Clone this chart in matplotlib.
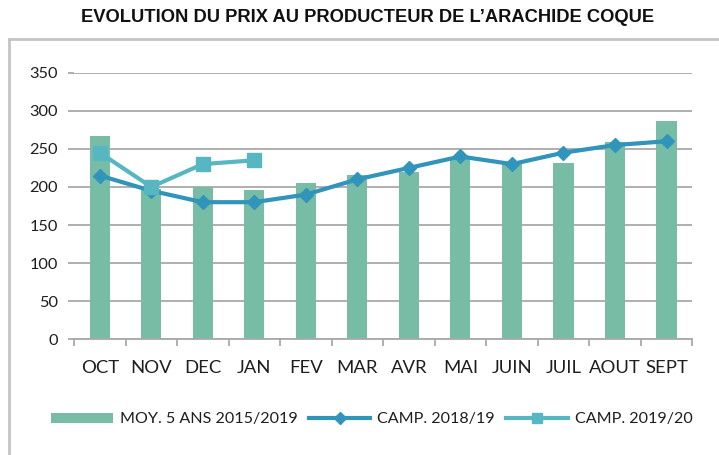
import matplotlib
matplotlib.use("Agg")
import matplotlib.pyplot as plt
import numpy as np
from matplotlib.lines import Line2D
from matplotlib.patches import Patch

months = ["OCT", "NOV", "DEC", "JAN", "FEV", "MAR", "AVR", "MAI",
          "JUIN", "JUIL", "AOUT", "SEPT"]
moy_5ans = [267, 197, 200, 196, 205, 216, 219, 238, 231, 232, 259, 287]
camp_2018_19 = [215, 195, 180, 180, 190, 210, 225, 240, 230, 245, 255, 260]
camp_2019_20 = [245, 200, 230, 235]
yticks = [0, 50, 100, 150, 200, 250, 300, 350]

bar_color = "#77BDA6"
line1_color = "#3194BA"
line2_color = "#56B6C2"
grid_color = "#A9A9A9"
text_color = "#1E1E1E"

label_font = ["Lato", "DejaVu Sans"]
title_font = ["Liberation Sans Narrow", "Liberation Sans", "DejaVu Sans"]

W, H = 719, 455
fig = plt.figure(figsize=(W / 100, H / 100), dpi=100)
ax = fig.add_axes([74 / W, (H - 339.3) / H, (692.3 - 74) / W, (339.3 - 72.7) / H])

x = np.arange(len(months))
ax.bar(x, moy_5ans, width=0.39, color=bar_color, zorder=2)
ax.plot(x, camp_2018_19, color=line1_color, lw=3.0, marker="D", ms=7,
        mec=line1_color, mfc=line1_color, zorder=3)
ax.plot(x[:len(camp_2019_20)], camp_2019_20, color=line2_color, lw=3.0,
        marker="s", ms=10, mec=line2_color, mfc=line2_color, zorder=4)

ax.set_xlim(-0.5, len(months) - 0.5)
ax.set_ylim(0, 350)
ax.set_yticks(yticks)
ax.yaxis.grid(True, color=grid_color, lw=1.3, zorder=0)
ax.set_axisbelow(True)

for side in ("top", "right", "left"):
    ax.spines[side].set_visible(False)
ax.spines["bottom"].set_color(grid_color)
ax.spines["bottom"].set_linewidth(1.3)

ax.set_xticks(x)
ax.set_xticklabels(months, fontfamily=label_font, fontsize=13.3, color=text_color)
ax.set_xticks(np.arange(len(months) + 1) - 0.5, minor=True)
ax.tick_params(axis="x", which="major", length=0, pad=15)
ax.tick_params(axis="x", which="minor", length=5, width=1.3, color=grid_color)
ax.tick_params(axis="y", length=4.5, width=1.3, color=grid_color, pad=7,
               labelsize=11.8, labelcolor=text_color)
for lab in ax.get_yticklabels():
    lab.set_fontfamily(label_font)

fig.text(368 / W, 1 - 18 / H, "EVOLUTION DU PRIX AU PRODUCTEUR DE L\u2019ARACHIDE COQUE",
         ha="center", va="center", fontsize=13.2, fontweight="bold",
         family=title_font, color="#111111")

# outer chart frame (left and top edges)
frame_kw = dict(color="#C4C4C4", lw=2.0, transform=fig.transFigure)
fig.add_artist(Line2D([9 / W, 9 / W], [0, 1 - 39 / H], **frame_kw))
fig.add_artist(Line2D([9 / W, 1], [1 - 39 / H, 1 - 39 / H], **frame_kw))

handles = [
    Patch(facecolor=bar_color, edgecolor="none"),
    Line2D([], [], color=line1_color, lw=3, marker="D", ms=6),
    Line2D([], [], color=line2_color, lw=3, marker="s", ms=7),
]
labels = ["MOY. 5 ANS 2015/2019", "CAMP. 2018/19", "CAMP. 2019/20"]
fig.legend(handles, labels, loc="center", bbox_to_anchor=(372 / W, 1 - 419.5 / H),
           ncol=3, frameon=False, handlelength=3.8, handleheight=0.6,
           handletextpad=0.45, columnspacing=0.7,
           prop={"family": label_font, "size": 11.6}, labelcolor=text_color)

fig.savefig("out.png", dpi=100)
